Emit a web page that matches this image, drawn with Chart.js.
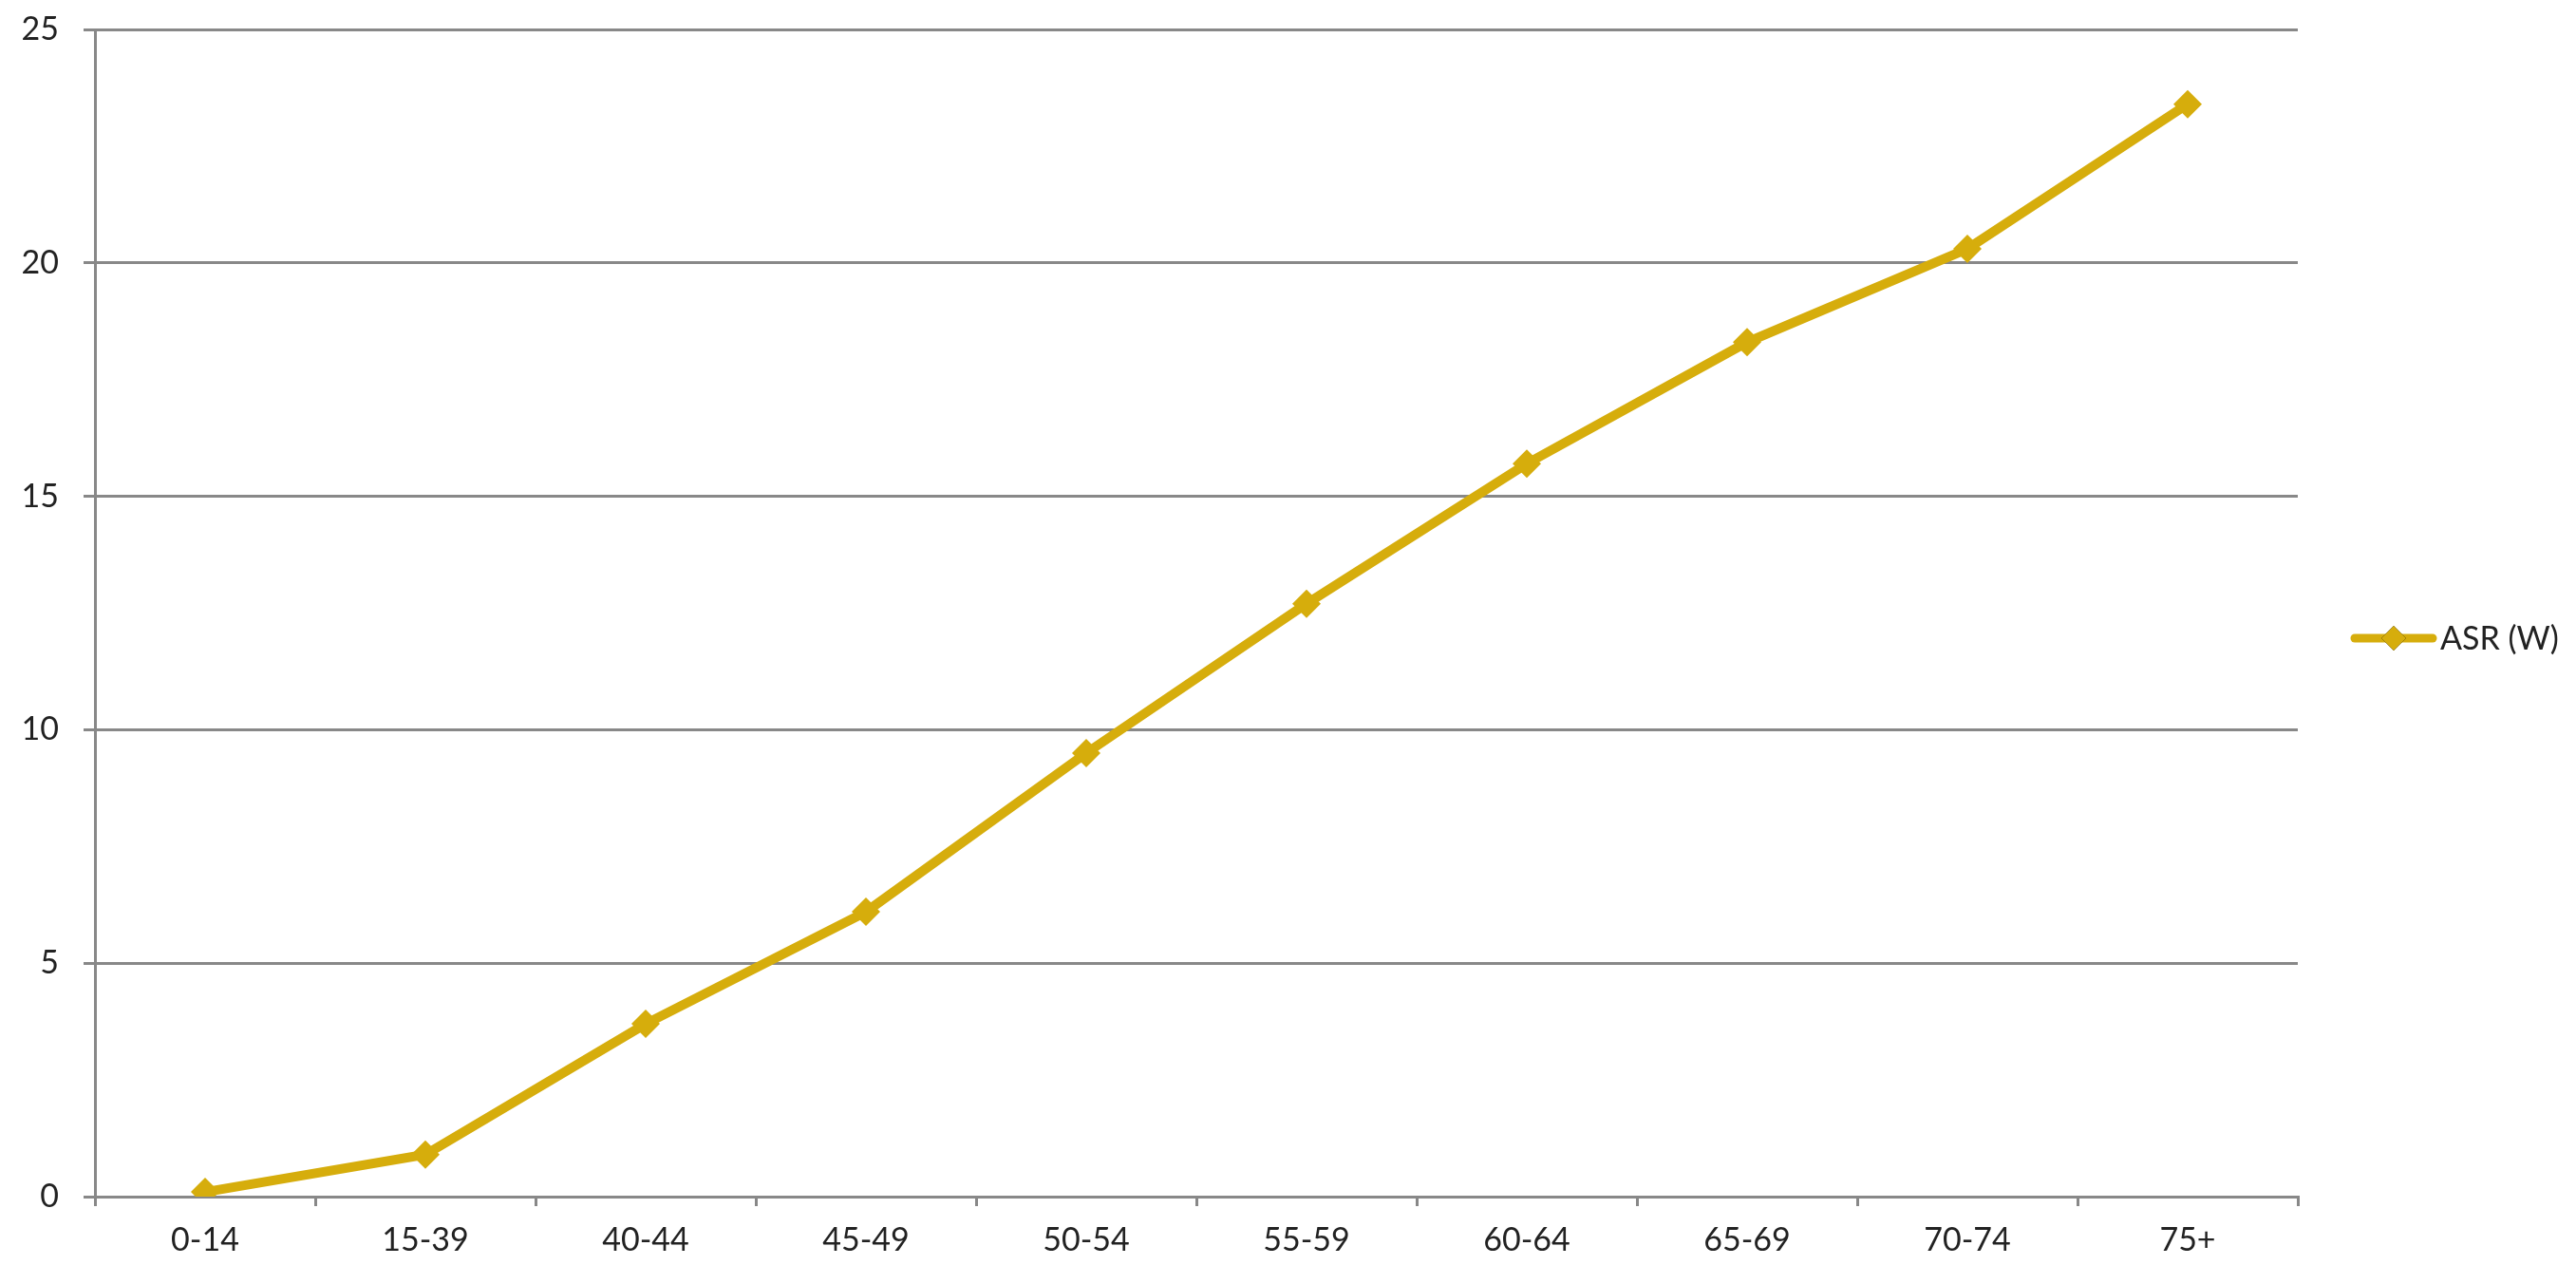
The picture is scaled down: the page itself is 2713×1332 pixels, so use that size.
<!DOCTYPE html>
<html>
<head>
<meta charset="utf-8">
<script src="https://cdn.jsdelivr.net/npm/chart.js@4"></script>
<style>
  html, body { margin: 0; padding: 0; background: #fff; }
  #wrap { width: 2713px; height: 1332px; }
</style>
</head>
<body>
<div id="wrap"><canvas id="asrChart" width="2713" height="1332"></canvas></div>
<script>
// Age groups and age-standardised rate (W)
const ageGroups = ['0-14', '15-39', '40-44', '45-49', '50-54', '55-59', '60-64', '65-69', '70-74', '75+'];
const asrValues = [0.1, 0.9, 3.7, 6.1, 9.5, 12.7, 15.7, 18.3, 20.3, 23.4];
const seriesName = 'ASR (W)';
const yTicks = [0, 5, 10, 15, 20, 25];

const gold = '#D6AD0C';
const gridGrey = '#888888';
const fontFamily = 'Lato, "Open Sans", sans-serif';

// Simple legend on the right: line with diamond, then the label
const sideLegend = {
    id: 'sideLegend',
    afterDraw(chart) {
        const ctx = chart.ctx;
        const y = 672;
        ctx.save();
        ctx.strokeStyle = gold;
        ctx.lineWidth = 9;
        ctx.lineCap = 'round';
        ctx.beginPath();
        ctx.moveTo(2480, y);
        ctx.lineTo(2562, y);
        ctx.stroke();
        Chart.helpers.drawPoint(ctx, { pointStyle: 'rectRot', radius: 13, borderWidth: 0 }, 2521, y);
        ctx.fillStyle = gold;
        ctx.fill();
        ctx.fillStyle = '#222';
        ctx.font = '34px ' + fontFamily;
        ctx.textBaseline = 'middle';
        ctx.textAlign = 'left';
        ctx.fillText(seriesName, 2570, y + 1);
        ctx.restore();
    }
};

const ctx = document.getElementById('asrChart').getContext('2d');
new Chart(ctx, {
    type: 'line',
    data: {
        labels: ageGroups,
        datasets: [{
            label: seriesName,
            data: asrValues,
            borderColor: gold,
            backgroundColor: gold,
            borderWidth: 10,
            pointStyle: 'rectRot',
            pointRadius: 15,
            pointBorderWidth: 0,
            tension: 0
        }]
    },
    options: {
        responsive: false,
        animation: false,
        layout: { padding: { top: 31, right: 293, left: 0, bottom: 0 } },
        plugins: {
            legend: { display: false },
            tooltip: { enabled: false }
        },
        scales: {
            x: {
                offset: true,
                grid: {
                    offset: true,
                    drawOnChartArea: false,
                    drawTicks: true,
                    tickLength: 10,
                    color: gridGrey,
                    lineWidth: 3
                },
                border: { color: gridGrey, width: 3 },
                ticks: {
                    color: '#222',
                    padding: 16,
                    font: { family: fontFamily, size: 34 }
                },
                afterFit(scale) {
                    scale.height = 72;
                    scale.paddingLeft = 0;
                    scale.paddingRight = 0;
                }
            },
            y: {
                min: 0,
                max: 25,
                afterBuildTicks(scale) { scale.ticks = yTicks.map(v => ({ value: v })); },
                grid: {
                    color: gridGrey,
                    lineWidth: 3,
                    tickLength: 12
                },
                border: { color: gridGrey, width: 3 },
                ticks: {
                    color: '#222',
                    padding: 26,
                    font: { family: fontFamily, size: 34 }
                },
                afterFit(scale) {
                    scale.width = 100;
                    scale.paddingTop = 0;
                    scale.paddingBottom = 0;
                }
            }
        }
    },
    plugins: [sideLegend]
});
</script>
</body>
</html>
